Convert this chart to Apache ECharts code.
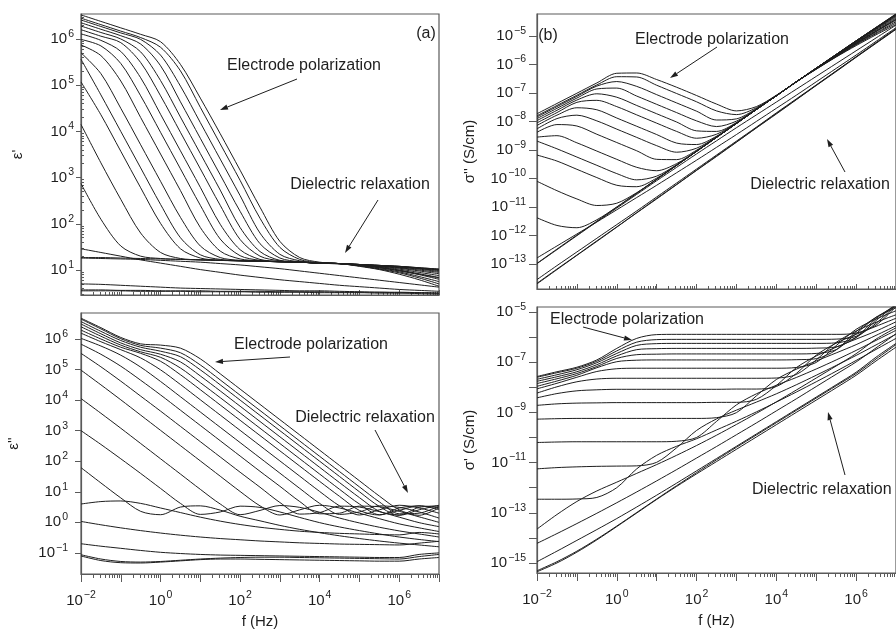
<!DOCTYPE html>
<html>
<head>
<meta charset="utf-8">
<script src="https://cdn.jsdelivr.net/npm/echarts@6/dist/echarts.min.js"></script>
<style>html,body{margin:0;padding:0;background:#fff}#c{width:896px;height:630px}</style>
</head>
<body>
<div id="c"></div>
<script>
// ---------------- DATA (all values are log10 of the quantity) ----------------
// frequency grid: log10 f (Hz)
const log10Freq = [-2,-1.5,-1,-0.5,0,0.5,1,1.5,2,2.5,3,3.5,4,4.5,5,5.5,6,6.5,7];
const xTickLabels = [-2,0,2,4,6];

// (a) log10 eps'
const logEpsPrime = [
 [6.52,6.38,6.24,6.10,5.94,5.45,4.72,3.95,3.16,2.36,1.62,1.27,1.17,1.14,1.12,1.10,1.08,1.05,1.02],
 [6.45,6.31,6.17,6.03,5.82,5.31,4.52,3.73,2.94,2.12,1.49,1.23,1.16,1.14,1.12,1.10,1.08,1.05,1.02],
 [6.41,6.27,6.13,5.99,5.65,4.98,4.19,3.40,2.61,1.80,1.34,1.20,1.15,1.14,1.12,1.10,1.08,1.04,1.01],
 [6.35,6.21,6.07,5.89,5.42,4.64,3.85,3.06,2.27,1.57,1.26,1.18,1.15,1.14,1.12,1.10,1.07,1.04,1.00],
 [6.28,6.14,6.00,5.72,5.10,4.31,3.52,2.73,1.92,1.40,1.21,1.18,1.15,1.14,1.12,1.09,1.07,1.03,0.99],
 [6.20,6.06,5.92,5.49,4.77,3.98,3.19,2.40,1.66,1.30,1.20,1.17,1.15,1.14,1.12,1.09,1.06,1.02,0.97],
 [6.11,5.97,5.73,5.16,4.37,3.58,2.79,1.99,1.44,1.23,1.19,1.17,1.15,1.14,1.11,1.08,1.05,1.00,0.95],
 [5.99,5.85,5.47,4.77,3.98,3.19,2.40,1.67,1.31,1.21,1.18,1.17,1.15,1.14,1.11,1.08,1.04,0.98,0.92],
 [5.87,5.64,5.09,4.30,3.51,2.72,1.92,1.41,1.24,1.20,1.18,1.17,1.15,1.14,1.11,1.07,1.02,0.95,0.88],
 [5.70,5.25,4.50,3.71,2.92,2.14,1.52,1.27,1.21,1.19,1.18,1.17,1.15,1.14,1.10,1.06,1.00,0.92,0.84],
 [5.56,4.79,4.00,3.21,2.42,1.70,1.33,1.23,1.20,1.19,1.18,1.17,1.15,1.14,1.10,1.05,0.98,0.90,0.80],
 [5.07,4.36,3.57,2.78,2.01,1.46,1.26,1.21,1.20,1.19,1.18,1.17,1.15,1.14,1.09,1.03,0.96,0.86,0.75],
 [4.15,3.32,2.53,1.80,1.38,1.25,1.22,1.21,1.20,1.19,1.18,1.17,1.15,1.14,1.09,1.02,0.94,0.83,0.70],
 [2.87,2.10,1.52,1.30,1.25,1.23,1.22,1.21,1.20,1.19,1.18,1.17,1.15,1.14,1.08,1.01,0.91,0.79,0.65],
 [1.27,1.27,1.26,1.25,1.24,1.23,1.22,1.21,1.20,1.19,1.18,1.17,1.15,1.13,1.10,1.05,0.99,0.91,0.83],
 [1.26,1.25,1.24,1.23,1.21,1.19,1.17,1.14,1.11,1.07,1.03,0.98,0.93,0.88,0.83,0.78,0.73,0.68,0.63],
 [1.46,1.38,1.30,1.22,1.15,1.08,1.01,0.95,0.89,0.84,0.79,0.75,0.71,0.67,0.64,0.61,0.58,0.56,0.54],
 [0.70,0.69,0.67,0.65,0.63,0.61,0.60,0.59,0.58,0.57,0.56,0.55,0.55,0.54,0.53,0.52,0.52,0.51,0.50],
 [0.57,0.57,0.56,0.56,0.55,0.55,0.55,0.54,0.54,0.54,0.53,0.53,0.53,0.52,0.52,0.52,0.51,0.51,0.50],
 [0.55,0.55,0.55,0.54,0.54,0.54,0.53,0.53,0.53,0.52,0.52,0.52,0.51,0.51,0.51,0.50,0.50,0.49,0.48]
];

// (b) log10 sigma'' (S/cm)
const logSigmaDoublePrime = [
 [-7.73,-7.37,-7.01,-6.65,-6.31,-6.30,-6.53,-6.80,-7.09,-7.39,-7.63,-7.48,-7.08,-6.61,-6.13,-5.65,-5.17,-4.70,-4.23],
 [-7.80,-7.44,-7.08,-6.72,-6.43,-6.44,-6.73,-7.02,-7.31,-7.63,-7.76,-7.52,-7.09,-6.61,-6.13,-5.65,-5.17,-4.70,-4.23],
 [-7.84,-7.48,-7.12,-6.76,-6.60,-6.77,-7.06,-7.35,-7.64,-7.95,-7.91,-7.55,-7.10,-6.61,-6.13,-5.65,-5.17,-4.71,-4.24],
 [-7.90,-7.54,-7.18,-6.86,-6.83,-7.11,-7.40,-7.69,-7.98,-8.18,-7.99,-7.57,-7.10,-6.61,-6.13,-5.65,-5.18,-4.71,-4.25],
 [-7.97,-7.61,-7.25,-7.03,-7.15,-7.44,-7.73,-8.02,-8.33,-8.35,-8.04,-7.57,-7.10,-6.61,-6.13,-5.66,-5.18,-4.72,-4.26],
 [-8.05,-7.69,-7.33,-7.26,-7.48,-7.77,-8.06,-8.35,-8.59,-8.45,-8.05,-7.58,-7.10,-6.61,-6.13,-5.66,-5.19,-4.73,-4.28],
 [-8.14,-7.78,-7.52,-7.59,-7.88,-8.17,-8.46,-8.76,-8.81,-8.52,-8.06,-7.58,-7.10,-6.61,-6.14,-5.67,-5.20,-4.75,-4.30],
 [-8.26,-7.90,-7.78,-7.98,-8.27,-8.56,-8.85,-9.08,-8.94,-8.54,-8.07,-7.58,-7.10,-6.61,-6.14,-5.67,-5.21,-4.77,-4.33],
 [-8.38,-8.11,-8.16,-8.45,-8.74,-9.03,-9.33,-9.34,-9.01,-8.55,-8.07,-7.58,-7.10,-6.61,-6.14,-5.68,-5.23,-4.80,-4.37],
 [-8.55,-8.50,-8.75,-9.04,-9.33,-9.61,-9.73,-9.48,-9.04,-8.56,-8.07,-7.58,-7.10,-6.61,-6.15,-5.69,-5.25,-4.83,-4.41],
 [-8.69,-8.96,-9.25,-9.54,-9.83,-10.05,-9.92,-9.52,-9.05,-8.56,-8.07,-7.58,-7.10,-6.61,-6.15,-5.70,-5.27,-4.85,-4.45],
 [-9.18,-9.39,-9.68,-9.97,-10.24,-10.29,-9.99,-9.54,-9.05,-8.56,-8.07,-7.58,-7.10,-6.61,-6.16,-5.72,-5.29,-4.89,-4.50],
 [-10.10,-10.43,-10.72,-10.95,-10.87,-10.50,-10.03,-9.54,-9.05,-8.56,-8.07,-7.58,-7.10,-6.61,-6.16,-5.73,-5.31,-4.92,-4.55],
 [-11.38,-11.65,-11.73,-11.45,-11.00,-10.52,-10.03,-9.54,-9.05,-8.56,-8.07,-7.58,-7.10,-6.61,-6.17,-5.74,-5.34,-4.96,-4.60],
 [-12.98,-12.48,-11.99,-11.50,-11.01,-10.52,-10.03,-9.54,-9.05,-8.56,-8.07,-7.58,-7.10,-6.62,-6.15,-5.70,-5.26,-4.84,-4.42],
 [-12.99,-12.50,-12.01,-11.52,-11.04,-10.56,-10.08,-9.61,-9.14,-8.68,-8.22,-7.77,-7.32,-6.87,-6.42,-5.97,-5.52,-5.07,-4.62],
 [-12.79,-12.37,-11.95,-11.53,-11.10,-10.67,-10.24,-9.80,-9.36,-8.91,-8.46,-8.00,-7.54,-7.08,-6.61,-6.14,-5.67,-5.19,-4.71],
 [-13.55,-13.06,-12.58,-12.10,-11.62,-11.14,-10.65,-10.16,-9.67,-9.18,-8.69,-8.20,-7.70,-7.21,-6.72,-6.23,-5.73,-5.24,-4.75],
 [-13.68,-13.18,-12.69,-12.19,-11.70,-11.20,-10.70,-10.21,-9.71,-9.21,-8.72,-8.22,-7.72,-7.23,-6.73,-6.23,-5.74,-5.24,-4.75],
 [-13.70,-13.20,-12.70,-12.21,-11.71,-11.21,-10.72,-10.22,-9.72,-9.23,-8.73,-8.23,-7.74,-7.24,-6.74,-6.25,-5.75,-5.26,-4.77]
];

// (c) log10 eps''
const logEpsDoublePrime = [
 [6.68,6.37,6.05,5.84,5.80,5.70,5.35,4.86,4.36,3.86,3.36,2.86,2.36,1.86,1.36,0.86,0.41,0.23,0.47],
 [6.65,6.33,6.01,5.79,5.70,5.55,5.15,4.66,4.16,3.66,3.16,2.66,2.16,1.66,1.16,0.67,0.28,0.30,0.53],
 [6.57,6.25,5.95,5.73,5.60,5.42,4.99,4.50,4.00,3.50,3.00,2.50,2.00,1.50,1.00,0.52,0.23,0.41,0.56],
 [6.49,6.17,5.87,5.65,5.50,5.25,4.79,4.30,3.80,3.30,2.80,2.30,1.80,1.30,0.81,0.36,0.24,0.49,0.54],
 [6.40,6.09,5.80,5.58,5.40,5.05,4.57,4.08,3.58,3.08,2.58,2.08,1.58,1.08,0.60,0.25,0.39,0.54,0.48],
 [6.29,6.00,5.73,5.53,5.27,4.83,4.34,3.84,3.34,2.84,2.34,1.84,1.34,0.85,0.39,0.24,0.47,0.54,0.42],
 [6.19,5.91,5.65,5.38,4.99,4.51,4.01,3.51,3.01,2.51,2.01,1.51,1.01,0.54,0.24,0.41,0.56,0.47,0.30],
 [6.02,5.77,5.47,5.08,4.61,4.11,3.61,3.11,2.61,2.11,1.61,1.11,0.62,0.26,0.34,0.54,0.49,0.34,0.14],
 [5.83,5.50,5.11,4.65,4.17,3.67,3.17,2.67,2.17,1.67,1.18,0.68,0.28,0.30,0.53,0.51,0.36,0.18,0.00],
 [5.53,5.09,4.62,4.13,3.64,3.14,2.64,2.14,1.64,1.15,0.65,0.27,0.32,0.53,0.50,0.35,0.17,-0.01,-0.14],
 [4.98,4.50,4.01,3.51,3.01,2.51,2.01,1.51,1.01,0.54,0.24,0.41,0.56,0.47,0.30,0.12,-0.05,-0.18,-0.30],
 [4.05,3.57,3.08,2.58,2.08,1.58,1.08,0.60,0.25,0.39,0.55,0.49,0.33,0.14,-0.02,-0.16,-0.28,-0.38,-0.48],
 [3.00,2.55,2.08,1.60,1.11,0.62,0.26,0.34,0.53,0.49,0.34,0.16,-0.01,-0.15,-0.27,-0.38,-0.48,-0.56,-0.63],
 [1.79,1.29,0.80,0.36,0.25,0.50,0.54,0.40,0.20,0.05,-0.10,-0.23,-0.34,-0.44,-0.53,-0.61,-0.68,-0.74,-0.80],
 [0.60,0.68,0.70,0.62,0.47,0.32,0.17,0.04,-0.07,-0.16,-0.23,-0.29,-0.33,-0.36,-0.38,-0.40,-0.41,-0.33,-0.38],
 [0.03,-0.08,-0.18,-0.27,-0.35,-0.42,-0.48,-0.53,-0.57,-0.61,-0.64,-0.67,-0.69,-0.71,-0.72,-0.73,-0.74,-0.68,-0.62],
 [-0.70,-0.78,-0.85,-0.92,-0.98,-1.02,-1.05,-1.07,-1.08,-1.09,-1.10,-1.11,-1.12,-1.13,-1.14,-1.15,-1.15,-1.05,-1.00],
 [-1.06,-1.20,-1.28,-1.30,-1.28,-1.24,-1.20,-1.17,-1.15,-1.14,-1.14,-1.15,-1.16,-1.17,-1.18,-1.19,-1.20,-1.12,-1.05],
 [-1.10,-1.25,-1.32,-1.33,-1.30,-1.26,-1.22,-1.20,-1.20,-1.21,-1.22,-1.23,-1.24,-1.25,-1.26,-1.27,-1.27,-1.20,-1.15]
];

// (d) log10 sigma' (S/cm)
const logSigmaPrime = [
 [-7.57,-7.38,-7.20,-6.91,-6.45,-6.05,-5.90,-5.89,-5.89,-5.89,-5.89,-5.89,-5.89,-5.89,-5.89,-5.89,-5.84,-5.52,-4.78],
 [-7.60,-7.42,-7.24,-6.96,-6.55,-6.20,-6.10,-6.09,-6.09,-6.09,-6.09,-6.09,-6.09,-6.09,-6.09,-6.08,-5.97,-5.45,-4.72],
 [-7.68,-7.50,-7.30,-7.02,-6.65,-6.33,-6.26,-6.25,-6.25,-6.25,-6.25,-6.25,-6.25,-6.25,-6.25,-6.23,-6.02,-5.34,-4.69],
 [-7.76,-7.58,-7.38,-7.10,-6.75,-6.50,-6.46,-6.45,-6.45,-6.45,-6.45,-6.45,-6.45,-6.45,-6.44,-6.39,-6.01,-5.26,-4.71],
 [-7.85,-7.66,-7.45,-7.17,-6.85,-6.70,-6.68,-6.67,-6.67,-6.67,-6.67,-6.67,-6.67,-6.67,-6.65,-6.50,-5.86,-5.21,-4.77],
 [-7.96,-7.75,-7.52,-7.22,-6.98,-6.92,-6.91,-6.91,-6.91,-6.91,-6.91,-6.91,-6.91,-6.90,-6.86,-6.51,-5.78,-5.21,-4.83],
 [-8.06,-7.84,-7.60,-7.37,-7.26,-7.24,-7.24,-7.24,-7.24,-7.24,-7.24,-7.24,-7.24,-7.21,-7.01,-6.34,-5.69,-5.28,-4.95],
 [-8.23,-7.98,-7.78,-7.67,-7.64,-7.64,-7.64,-7.64,-7.64,-7.64,-7.64,-7.64,-7.63,-7.49,-6.91,-6.21,-5.76,-5.41,-5.11],
 [-8.42,-8.25,-8.14,-8.10,-8.08,-8.08,-8.08,-8.08,-8.08,-8.08,-8.07,-8.07,-7.97,-7.45,-6.72,-6.24,-5.89,-5.57,-5.25],
 [-8.72,-8.66,-8.63,-8.62,-8.61,-8.61,-8.61,-8.61,-8.61,-8.60,-8.60,-8.48,-7.93,-7.22,-6.75,-6.40,-6.08,-5.76,-5.39],
 [-9.27,-9.25,-9.24,-9.24,-9.24,-9.24,-9.24,-9.24,-9.24,-9.21,-9.01,-8.34,-7.69,-7.28,-6.95,-6.63,-6.30,-5.93,-5.55],
 [-10.20,-10.18,-10.17,-10.17,-10.17,-10.17,-10.17,-10.15,-10.00,-9.36,-8.70,-8.26,-7.92,-7.61,-7.27,-6.91,-6.53,-6.13,-5.73],
 [-11.25,-11.20,-11.17,-11.15,-11.14,-11.13,-10.99,-10.41,-9.72,-9.26,-8.91,-8.59,-8.26,-7.90,-7.52,-7.13,-6.73,-6.31,-5.88],
 [-12.46,-12.46,-12.45,-12.39,-12.00,-11.25,-10.71,-10.35,-10.05,-9.70,-9.35,-8.98,-8.59,-8.19,-7.78,-7.36,-6.93,-6.49,-6.05],
 [-13.65,-13.07,-12.55,-12.13,-11.78,-11.43,-11.08,-10.71,-10.32,-9.91,-9.48,-9.04,-8.58,-8.11,-7.63,-7.15,-6.66,-6.08,-5.63],
 [-14.22,-13.83,-13.43,-13.02,-12.60,-12.17,-11.73,-11.28,-10.82,-10.36,-9.89,-9.42,-8.94,-8.46,-7.97,-7.48,-6.99,-6.43,-5.87],
 [-14.95,-14.53,-14.10,-13.67,-13.23,-12.77,-12.30,-11.82,-11.33,-10.84,-10.35,-9.86,-9.37,-8.88,-8.39,-7.90,-7.40,-6.80,-6.25],
 [-15.31,-14.95,-14.53,-14.05,-13.53,-12.99,-12.45,-11.92,-11.40,-10.89,-10.39,-9.90,-9.41,-8.92,-8.43,-7.94,-7.45,-6.87,-6.30],
 [-15.35,-15.00,-14.57,-14.08,-13.55,-13.01,-12.47,-11.95,-11.45,-10.96,-10.47,-9.98,-9.49,-9.00,-8.51,-8.02,-7.52,-6.95,-6.40]
];

// tick label exponents per panel
const yTicksA = [1,2,3,4,5,6];
const yTicksB = [-13,-12,-11,-10,-9,-8,-7,-6,-5];
const yTicksC = [-1,0,1,2,3,4,5,6];
const yTicksD = [-15,-14,-13,-12,-11,-10,-9,-8,-7,-6,-5];
const yLabelsD = [-15,-13,-11,-9,-7,-5];

// ---------------- CHART ----------------
const FONT = '"Liberation Sans", Arial, Helvetica, sans-serif';
const INK = '#1e1e1e';
const FRAME = '#5a5a5a';

function supLabel(v) {
  const e = Math.round(v);
  const s = e < 0 ? '\u2212' + (-e) : String(e);
  return '{b|10}{s|' + s + '}';
}
const rich = {
  b: { fontSize: 15, fontFamily: FONT, color: INK, lineHeight: 21 },
  s: { fontSize: 10.5, fontFamily: FONT, color: INK, verticalAlign: 'top', lineHeight: 12, padding: [0, 0, 0, 1] }
};
function logMinors(lo, hi) {
  const out = [];
  for (let n = Math.floor(lo); n < hi; n++) {
    for (let k = 2; k <= 9; k++) {
      const v = n + Math.log10(k);
      if (v > lo && v < hi) out.push(+v.toFixed(4));
    }
  }
  return out;
}
const decX = [-2,-1,0,1,2,3,4,5,6,7];

const grids = [
  { left: 81,  top: 14,  width: 358, height: 281 },
  { left: 537, top: 14,  width: 360, height: 275 },
  { left: 81,  top: 313, width: 358, height: 261 },
  { left: 537, top: 307, width: 360, height: 266 }
].map(g => Object.assign({ show: true, borderColor: FRAME, borderWidth: 1.2, containLabel: false }, g));

const yRanges = [[0.46, 6.54], [-13.88, -4.23], [-1.69, 6.85], [-15.4, -4.8]];

const xAxis = [], yAxis = [];
function addX(gi, bottomLabels) {
  const common = { type: 'value', gridIndex: gi, min: -2, max: 7, position: 'bottom', splitLine: { show: false } };
  xAxis.push(Object.assign({}, common, {
    axisLine: { show: true, onZero: false, lineStyle: { color: FRAME, width: 1.2 } },
    axisTick: { show: true, inside: !bottomLabels, length: bottomLabels ? 8 : 5, customValues: decX, lineStyle: { color: FRAME } },
    axisLabel: { show: bottomLabels, customValues: xTickLabels, formatter: supLabel, rich: rich, margin: 16 },
    name: bottomLabels ? 'f (Hz)' : '', nameLocation: 'middle', nameGap: 40,
    nameTextStyle: { fontSize: 15, fontFamily: FONT, color: INK }
  }));
  xAxis.push(Object.assign({}, common, {
    axisLine: { show: false, onZero: false },
    axisTick: { show: true, inside: !bottomLabels, length: bottomLabels ? 4 : 3, customValues: logMinors(-2, 7), lineStyle: { color: FRAME } },
    axisLabel: { show: false }
  }));
}
function addY(gi, ticks, labels, name, minorInside, gap, tickLen, margin) {
  const r = yRanges[gi];
  const common = { type: 'value', gridIndex: gi, min: r[0], max: r[1], position: 'left', splitLine: { show: false } };
  yAxis.push(Object.assign({}, common, {
    axisLine: { show: true, onZero: false, lineStyle: { color: FRAME, width: 1.2 } },
    axisTick: { show: true, inside: false, length: tickLen, customValues: ticks, lineStyle: { color: FRAME } },
    axisLabel: { show: true, customValues: labels, formatter: supLabel, rich: rich, margin: margin },
    name: name, nameLocation: 'middle', nameRotate: 90, nameGap: gap,
    nameTextStyle: { fontSize: 15, fontFamily: FONT, color: INK }
  }));
  yAxis.push(Object.assign({}, common, {
    axisLine: { show: false, onZero: false },
    axisTick: { show: !!minorInside, inside: true, length: 3, customValues: minorInside ? logMinors(r[0], r[1]) : [], lineStyle: { color: FRAME } },
    axisLabel: { show: false }
  }));
}
addX(0, false); addY(0, yTicksA, yTicksA, "\u03b5'", true, 56, 5, 7);
addX(1, false); addY(1, yTicksB, yTicksB, "\u03c3'' (S/cm)", false, 60, 8, 11);
addX(2, true);  addY(2, yTicksC, yTicksC, "\u03b5''", false, 60, 6, 13);
addX(3, true);  addY(3, yTicksD, yLabelsD, "\u03c3' (S/cm)", false, 60, 8, 11);

const series = [];
function addPanel(gi, curves) {
  curves.forEach(arr => {
    series.push({
      type: 'line', xAxisIndex: gi * 2, yAxisIndex: gi * 2,
      data: arr.map((v, i) => [log10Freq[i], v]),
      showSymbol: false, smooth: 0.3, silent: true,
      lineStyle: { color: INK, width: 1 }, z: 3
    });
  });
}
addPanel(0, logEpsPrime);
addPanel(1, logSigmaDoublePrime);
addPanel(2, logEpsDoublePrime);
addPanel(3, logSigmaPrime);

// annotations
function txt(x, y, s, align) {
  return { type: 'text', x: x, y: y, z: 10,
    style: { text: s, fontSize: 16, fontFamily: FONT, fill: INK, align: align || 'center', verticalAlign: 'middle' } };
}
function arrow(x1, y1, x2, y2) {
  const a = Math.atan2(y2 - y1, x2 - x1), L = 8, W = 2.6;
  const bx = x2 - L * Math.cos(a), by = y2 - L * Math.sin(a);
  return [
    { type: 'line', z: 10, shape: { x1: x1, y1: y1, x2: bx, y2: by }, style: { stroke: INK, lineWidth: 1 } },
    { type: 'polygon', z: 10, shape: { points: [[x2, y2], [bx - W * Math.sin(a), by + W * Math.cos(a)], [bx + W * Math.sin(a), by - W * Math.cos(a)]] }, style: { fill: INK } }
  ];
}
const graphic = [
  txt(426, 34, '(a)'),
  txt(304, 66, 'Electrode polarization'),
  txt(360, 185, 'Dielectric relaxation'),
  txt(548, 36, '(b)'),
  txt(712, 40, 'Electrode polarization'),
  txt(820, 185, 'Dielectric relaxation'),
  txt(311, 345, 'Electrode polarization'),
  txt(365, 418, 'Dielectric relaxation'),
  txt(627, 320, 'Electrode polarization'),
  txt(752, 490, 'Dielectric relaxation', 'left')
].concat(
  arrow(297, 79, 220, 110), arrow(378, 200, 345, 253),
  arrow(717, 47, 670, 78), arrow(845, 172, 827, 139),
  arrow(290, 357, 215, 362), arrow(375, 430, 408, 493),
  arrow(583, 327, 632, 340), arrow(845, 475, 828, 412)
);

const chart = echarts.init(document.getElementById('c'), null, { renderer: 'canvas' });
chart.setOption({
  animation: false,
  backgroundColor: '#fff',
  textStyle: { fontFamily: FONT },
  grid: grids, xAxis: xAxis, yAxis: yAxis, series: series, graphic: graphic
});
</script>
</body>
</html>
